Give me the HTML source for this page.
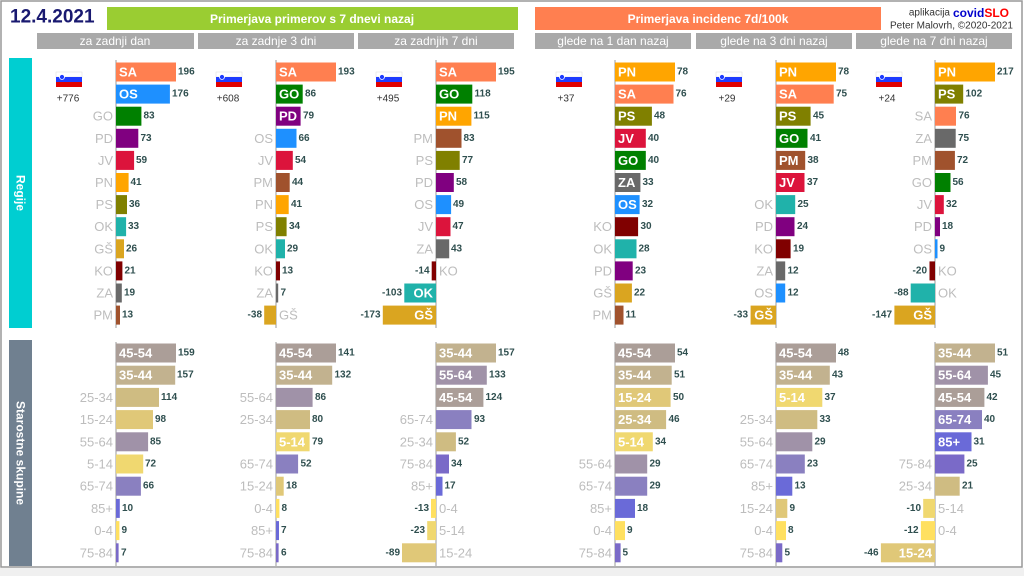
<!DOCTYPE html>
<html><head><meta charset="utf-8"><style>
body{margin:0;background:#fff;}
svg{display:block;font-family:"Liberation Sans",sans-serif;}
rect.b{y:-9.5px;height:19px;}
text{dominant-baseline:central;}
.v{font-size:10px;font-weight:bold;fill:#2f4f4f;}
.n{font-size:13px;fill:#bdbdbd;text-anchor:end;}
.m{font-size:13px;fill:#bdbdbd;}
.i{font-size:13px;font-weight:bold;fill:#fff;}
.e{text-anchor:end;}
.SA{fill:#ff7f50}.OS{fill:#1e90ff}.GO{fill:#008000}.PD{fill:#800080}.JV{fill:#dc143c}.PN{fill:#ffa500}.PS{fill:#808000}.OK{fill:#20b2aa}.GS{fill:#daa520}.KO{fill:#800000}.ZA{fill:#696969}.PM{fill:#a0522d}
.a45{fill:#ab9e98}.a35{fill:#c2b28f}.a25{fill:#cfbc82}.a15{fill:#e0c878}.a5{fill:#f0d870}.a0{fill:#ffe060}.a55{fill:#a092a8}.a65{fill:#8a80c0}.a75{fill:#7a6ac8}.a85{fill:#6a6ad8}
.h{font-size:12px;fill:#fff;text-anchor:middle;}
</style></head><body>
<svg width="1024" height="576" viewBox="0 0 1024 576">
<rect x="0" y="0" width="1024" height="576" fill="#fff"/>
<rect x="1" y="1" width="1021" height="566" fill="none" stroke="#999" stroke-width="1.5"/>
<rect x="0" y="568" width="1024" height="8" fill="#f0f0f0"/>
<text x="10" y="17" font-size="19" font-weight="bold" fill="#191970">12.4.2021</text>
<rect x="107" y="7" width="411" height="23" fill="#9acd32"/>
<text x="312" y="19" class="h" font-weight="bold" font-size="13">Primerjava primerov s 7 dnevi nazaj</text>
<rect x="535" y="7" width="346" height="23" fill="#ff7f50"/>
<text x="708" y="19" class="h" font-weight="bold" font-size="13">Primerjava incidenc 7d/100k</text>
<text x="950" y="13" font-size="10" fill="#333" text-anchor="end">aplikacija</text>
<text x="953" y="13" font-size="12" font-weight="bold" fill="#0000cd">covid<tspan fill="#ff0000">SLO</tspan></text>
<text x="1013" y="26" font-size="10" fill="#333" text-anchor="end">Peter Malovrh, ©2020-2021</text>
<g fill="#a9a9a9">
<rect x="37" y="33" width="157" height="16"/><rect x="198" y="33" width="156" height="16"/><rect x="358" y="33" width="156" height="16"/>
<rect x="535" y="33" width="156" height="16"/><rect x="696" y="33" width="156" height="16"/><rect x="856" y="33" width="156" height="16"/></g>
<text x="115" y="41" class="h">za zadnji dan</text><text x="276" y="41" class="h">za zadnje 3 dni</text><text x="436" y="41" class="h">za zadnjih 7 dni</text>
<text x="613" y="41" class="h">glede na 1 dan nazaj</text><text x="774" y="41" class="h">glede na 3 dni nazaj</text><text x="934" y="41" class="h">glede na 7 dni nazaj</text>
<rect x="9" y="58" width="23" height="270" fill="#00ced1"/>
<text transform="translate(20.5,193) rotate(90)" class="h" font-weight="bold" font-size="13">Regije</text>
<rect x="9" y="340" width="23" height="226" fill="#708090"/>
<text transform="translate(20.5,453) rotate(90)" class="h" font-weight="bold" font-size="13">Starostne skupine</text>
<g stroke="#999" stroke-width="1">
<line x1="116" y1="60" x2="116" y2="328"/><line x1="276" y1="60" x2="276" y2="328"/><line x1="436" y1="60" x2="436" y2="328"/><line x1="615" y1="60" x2="615" y2="328"/><line x1="776" y1="60" x2="776" y2="328"/><line x1="935" y1="60" x2="935" y2="328"/>
<line x1="116" y1="342" x2="116" y2="566"/><line x1="276" y1="342" x2="276" y2="566"/><line x1="436" y1="342" x2="436" y2="566"/><line x1="615" y1="342" x2="615" y2="566"/><line x1="776" y1="342" x2="776" y2="566"/><line x1="935" y1="342" x2="935" y2="566"/>
</g>
<!-- flags -->
<g transform="translate(56,72)"><rect width="26" height="5" fill="#fff" stroke="#ddd" stroke-width="0.5"/><rect y="5" width="26" height="5" fill="#1e3cff"/><rect y="10" width="26" height="5" fill="#e00000"/><circle cx="6" cy="5" r="2.5" fill="#1e3cff" stroke="#fff" stroke-width="0.8"/></g>
<text x="68" y="99" font-size="10" fill="#333" text-anchor="middle">+776</text>
<g transform="translate(216,72)"><rect width="26" height="5" fill="#fff" stroke="#ddd" stroke-width="0.5"/><rect y="5" width="26" height="5" fill="#1e3cff"/><rect y="10" width="26" height="5" fill="#e00000"/><circle cx="6" cy="5" r="2.5" fill="#1e3cff" stroke="#fff" stroke-width="0.8"/></g>
<text x="228" y="99" font-size="10" fill="#333" text-anchor="middle">+608</text>
<g transform="translate(376,72)"><rect width="26" height="5" fill="#fff" stroke="#ddd" stroke-width="0.5"/><rect y="5" width="26" height="5" fill="#1e3cff"/><rect y="10" width="26" height="5" fill="#e00000"/><circle cx="6" cy="5" r="2.5" fill="#1e3cff" stroke="#fff" stroke-width="0.8"/></g>
<text x="388" y="99" font-size="10" fill="#333" text-anchor="middle">+495</text>
<g transform="translate(556,72)"><rect width="26" height="5" fill="#fff" stroke="#ddd" stroke-width="0.5"/><rect y="5" width="26" height="5" fill="#1e3cff"/><rect y="10" width="26" height="5" fill="#e00000"/><circle cx="6" cy="5" r="2.5" fill="#1e3cff" stroke="#fff" stroke-width="0.8"/></g>
<text x="566" y="99" font-size="10" fill="#333" text-anchor="middle">+37</text>
<g transform="translate(716,72)"><rect width="26" height="5" fill="#fff" stroke="#ddd" stroke-width="0.5"/><rect y="5" width="26" height="5" fill="#1e3cff"/><rect y="10" width="26" height="5" fill="#e00000"/><circle cx="6" cy="5" r="2.5" fill="#1e3cff" stroke="#fff" stroke-width="0.8"/></g>
<text x="727" y="99" font-size="10" fill="#333" text-anchor="middle">+29</text>
<g transform="translate(876,72)"><rect width="26" height="5" fill="#fff" stroke="#ddd" stroke-width="0.5"/><rect y="5" width="26" height="5" fill="#1e3cff"/><rect y="10" width="26" height="5" fill="#e00000"/><circle cx="6" cy="5" r="2.5" fill="#1e3cff" stroke="#fff" stroke-width="0.8"/></g>
<text x="887" y="99" font-size="10" fill="#333" text-anchor="middle">+24</text>

<!-- P1 regions -->
<g transform="translate(116,72)"><rect class="b SA" width="60"/><text x="3" class="i">SA</text><text x="62" class="v">196</text></g>
<g transform="translate(116,94.1)"><rect class="b OS" width="53.9"/><text x="3" class="i">OS</text><text x="56" class="v">176</text></g>
<g transform="translate(116,116.2)"><rect class="b GO" width="25.4"/><text x="-3" class="n">GO</text><text x="27.5" class="v">83</text></g>
<g transform="translate(116,138.3)"><rect class="b PD" width="22.3"/><text x="-3" class="n">PD</text><text x="24.5" class="v">73</text></g>
<g transform="translate(116,160.4)"><rect class="b JV" width="18.1"/><text x="-3" class="n">JV</text><text x="20" class="v">59</text></g>
<g transform="translate(116,182.5)"><rect class="b PN" width="12.6"/><text x="-3" class="n">PN</text><text x="14.5" class="v">41</text></g>
<g transform="translate(116,204.6)"><rect class="b PS" width="11"/><text x="-3" class="n">PS</text><text x="13" class="v">36</text></g>
<g transform="translate(116,226.7)"><rect class="b OK" width="10.1"/><text x="-3" class="n">OK</text><text x="12" class="v">33</text></g>
<g transform="translate(116,248.8)"><rect class="b GS" width="8"/><text x="-3" class="n">GŠ</text><text x="10" class="v">26</text></g>
<g transform="translate(116,270.9)"><rect class="b KO" width="6.4"/><text x="-3" class="n">KO</text><text x="8.5" class="v">21</text></g>
<g transform="translate(116,293)"><rect class="b ZA" width="5.8"/><text x="-3" class="n">ZA</text><text x="8" class="v">19</text></g>
<g transform="translate(116,315.1)"><rect class="b PM" width="4"/><text x="-3" class="n">PM</text><text x="6" class="v">13</text></g>
<!-- P2 regions -->
<g transform="translate(276,72)"><rect class="b SA" width="60"/><text x="3" class="i">SA</text><text x="62" class="v">193</text></g>
<g transform="translate(276,94.1)"><rect class="b GO" width="26.7"/><text x="3" class="i">GO</text><text x="29" class="v">86</text></g>
<g transform="translate(276,116.2)"><rect class="b PD" width="24.6"/><text x="3" class="i">PD</text><text x="27" class="v">79</text></g>
<g transform="translate(276,138.3)"><rect class="b OS" width="20.5"/><text x="-3" class="n">OS</text><text x="22.5" class="v">66</text></g>
<g transform="translate(276,160.4)"><rect class="b JV" width="16.8"/><text x="-3" class="n">JV</text><text x="19" class="v">54</text></g>
<g transform="translate(276,182.5)"><rect class="b PM" width="13.7"/><text x="-3" class="n">PM</text><text x="16" class="v">44</text></g>
<g transform="translate(276,204.6)"><rect class="b PN" width="12.7"/><text x="-3" class="n">PN</text><text x="15" class="v">41</text></g>
<g transform="translate(276,226.7)"><rect class="b PS" width="10.6"/><text x="-3" class="n">PS</text><text x="13" class="v">34</text></g>
<g transform="translate(276,248.8)"><rect class="b OK" width="9"/><text x="-3" class="n">OK</text><text x="11" class="v">29</text></g>
<g transform="translate(276,270.9)"><rect class="b KO" width="4"/><text x="-3" class="n">KO</text><text x="6" class="v">13</text></g>
<g transform="translate(276,293)"><rect class="b ZA" width="2.2"/><text x="-3" class="n">ZA</text><text x="4.5" class="v">7</text></g>
<g transform="translate(276,315.1)"><rect class="b GS" x="-11.8" width="11.8"/><text x="3" class="m">GŠ</text><text x="-14" class="v e">-38</text></g>
<!-- P3 regions -->
<g transform="translate(436,72)"><rect class="b SA" width="60"/><text x="3" class="i">SA</text><text x="62" class="v">195</text></g>
<g transform="translate(436,94.1)"><rect class="b GO" width="36.3"/><text x="3" class="i">GO</text><text x="38.5" class="v">118</text></g>
<g transform="translate(436,116.2)"><rect class="b PN" width="35.4"/><text x="3" class="i">PN</text><text x="37.5" class="v">115</text></g>
<g transform="translate(436,138.3)"><rect class="b PM" width="25.5"/><text x="-3" class="n">PM</text><text x="27.5" class="v">83</text></g>
<g transform="translate(436,160.4)"><rect class="b PS" width="23.7"/><text x="-3" class="n">PS</text><text x="26" class="v">77</text></g>
<g transform="translate(436,182.5)"><rect class="b PD" width="17.8"/><text x="-3" class="n">PD</text><text x="20" class="v">58</text></g>
<g transform="translate(436,204.6)"><rect class="b OS" width="15.1"/><text x="-3" class="n">OS</text><text x="17" class="v">49</text></g>
<g transform="translate(436,226.7)"><rect class="b JV" width="14.5"/><text x="-3" class="n">JV</text><text x="16.5" class="v">47</text></g>
<g transform="translate(436,248.8)"><rect class="b ZA" width="13.2"/><text x="-3" class="n">ZA</text><text x="15" class="v">43</text></g>
<g transform="translate(436,270.9)"><rect class="b KO" x="-4.3" width="4.3"/><text x="3" class="m">KO</text><text x="-6.5" class="v e">-14</text></g>
<g transform="translate(436,293)"><rect class="b OK" x="-31.7" width="31.7"/><text x="-3" class="i e">OK</text><text x="-34" class="v e">-103</text></g>
<g transform="translate(436,315.1)"><rect class="b GS" x="-53.2" width="53.2"/><text x="-3" class="i e">GŠ</text><text x="-55.5" class="v e">-173</text></g>
<!-- P4 regions -->
<g transform="translate(615,72)"><rect class="b PN" width="60"/><text x="3" class="i">PN</text><text x="62" class="v">78</text></g>
<g transform="translate(615,94.1)"><rect class="b SA" width="58.5"/><text x="3" class="i">SA</text><text x="60.5" class="v">76</text></g>
<g transform="translate(615,116.2)"><rect class="b PS" width="36.9"/><text x="3" class="i">PS</text><text x="39" class="v">48</text></g>
<g transform="translate(615,138.3)"><rect class="b JV" width="30.8"/><text x="3" class="i">JV</text><text x="33" class="v">40</text></g>
<g transform="translate(615,160.4)"><rect class="b GO" width="30.8"/><text x="3" class="i">GO</text><text x="33" class="v">40</text></g>
<g transform="translate(615,182.5)"><rect class="b ZA" width="25.4"/><text x="3" class="i">ZA</text><text x="27.5" class="v">33</text></g>
<g transform="translate(615,204.6)"><rect class="b OS" width="24.6"/><text x="3" class="i">OS</text><text x="27" class="v">32</text></g>
<g transform="translate(615,226.7)"><rect class="b KO" width="23.1"/><text x="-3" class="n">KO</text><text x="25.5" class="v">30</text></g>
<g transform="translate(615,248.8)"><rect class="b OK" width="21.5"/><text x="-3" class="n">OK</text><text x="23.5" class="v">28</text></g>
<g transform="translate(615,270.9)"><rect class="b PD" width="17.7"/><text x="-3" class="n">PD</text><text x="20" class="v">23</text></g>
<g transform="translate(615,293)"><rect class="b GS" width="16.9"/><text x="-3" class="n">GŠ</text><text x="19" class="v">22</text></g>
<g transform="translate(615,315.1)"><rect class="b PM" width="8.5"/><text x="-3" class="n">PM</text><text x="10.5" class="v">11</text></g>
<!-- P5 regions -->
<g transform="translate(776,72)"><rect class="b PN" width="60"/><text x="3" class="i">PN</text><text x="62" class="v">78</text></g>
<g transform="translate(776,94.1)"><rect class="b SA" width="57.7"/><text x="3" class="i">SA</text><text x="60" class="v">75</text></g>
<g transform="translate(776,116.2)"><rect class="b PS" width="34.6"/><text x="3" class="i">PS</text><text x="37" class="v">45</text></g>
<g transform="translate(776,138.3)"><rect class="b GO" width="31.5"/><text x="3" class="i">GO</text><text x="34" class="v">41</text></g>
<g transform="translate(776,160.4)"><rect class="b PM" width="29.2"/><text x="3" class="i">PM</text><text x="31.5" class="v">38</text></g>
<g transform="translate(776,182.5)"><rect class="b JV" width="28.5"/><text x="3" class="i">JV</text><text x="31" class="v">37</text></g>
<g transform="translate(776,204.6)"><rect class="b OK" width="19.2"/><text x="-3" class="n">OK</text><text x="21.5" class="v">25</text></g>
<g transform="translate(776,226.7)"><rect class="b PD" width="18.5"/><text x="-3" class="n">PD</text><text x="21" class="v">24</text></g>
<g transform="translate(776,248.8)"><rect class="b KO" width="14.6"/><text x="-3" class="n">KO</text><text x="17" class="v">19</text></g>
<g transform="translate(776,270.9)"><rect class="b ZA" width="9.2"/><text x="-3" class="n">ZA</text><text x="11.5" class="v">12</text></g>
<g transform="translate(776,293)"><rect class="b OS" width="9.2"/><text x="-3" class="n">OS</text><text x="11.5" class="v">12</text></g>
<g transform="translate(776,315.1)"><rect class="b GS" x="-25.4" width="25.4"/><text x="-3" class="i e">GŠ</text><text x="-28" class="v e">-33</text></g>
<!-- P6 regions -->
<g transform="translate(935,72)"><rect class="b PN" width="60"/><text x="3" class="i">PN</text><text x="62" class="v">217</text></g>
<g transform="translate(935,94.1)"><rect class="b PS" width="28.2"/><text x="3" class="i">PS</text><text x="30.5" class="v">102</text></g>
<g transform="translate(935,116.2)"><rect class="b SA" width="21"/><text x="-3" class="n">SA</text><text x="23.5" class="v">76</text></g>
<g transform="translate(935,138.3)"><rect class="b ZA" width="20.7"/><text x="-3" class="n">ZA</text><text x="23" class="v">75</text></g>
<g transform="translate(935,160.4)"><rect class="b PM" width="19.9"/><text x="-3" class="n">PM</text><text x="22" class="v">72</text></g>
<g transform="translate(935,182.5)"><rect class="b GO" width="15.5"/><text x="-3" class="n">GO</text><text x="17.5" class="v">56</text></g>
<g transform="translate(935,204.6)"><rect class="b JV" width="8.8"/><text x="-3" class="n">JV</text><text x="11" class="v">32</text></g>
<g transform="translate(935,226.7)"><rect class="b PD" width="5"/><text x="-3" class="n">PD</text><text x="7" class="v">18</text></g>
<g transform="translate(935,248.8)"><rect class="b OS" width="2.5"/><text x="-3" class="n">OS</text><text x="4.5" class="v">9</text></g>
<g transform="translate(935,270.9)"><rect class="b KO" x="-5.5" width="5.5"/><text x="3" class="m">KO</text><text x="-8" class="v e">-20</text></g>
<g transform="translate(935,293)"><rect class="b OK" x="-24.3" width="24.3"/><text x="3" class="m">OK</text><text x="-26.5" class="v e">-88</text></g>
<g transform="translate(935,315.1)"><rect class="b GS" x="-40.6" width="40.6"/><text x="-3" class="i e">GŠ</text><text x="-43" class="v e">-147</text></g>

<!-- P1 ages -->
<g transform="translate(116,353)"><rect class="b a45" width="60"/><text x="3" class="i">45-54</text><text x="62" class="v">159</text></g>
<g transform="translate(116,375.2)"><rect class="b a35" width="59.2"/><text x="3" class="i">35-44</text><text x="61" class="v">157</text></g>
<g transform="translate(116,397.4)"><rect class="b a25" width="43"/><text x="-3" class="n">25-34</text><text x="45" class="v">114</text></g>
<g transform="translate(116,419.6)"><rect class="b a15" width="37"/><text x="-3" class="n">15-24</text><text x="39" class="v">98</text></g>
<g transform="translate(116,441.8)"><rect class="b a55" width="32.1"/><text x="-3" class="n">55-64</text><text x="34" class="v">85</text></g>
<g transform="translate(116,464)"><rect class="b a5" width="27.2"/><text x="-3" class="n">5-14</text><text x="29" class="v">72</text></g>
<g transform="translate(116,486.2)"><rect class="b a65" width="24.9"/><text x="-3" class="n">65-74</text><text x="27" class="v">66</text></g>
<g transform="translate(116,508.4)"><rect class="b a85" width="3.8"/><text x="-3" class="n">85+</text><text x="6" class="v">10</text></g>
<g transform="translate(116,530.6)"><rect class="b a0" width="3.4"/><text x="-3" class="n">0-4</text><text x="5.5" class="v">9</text></g>
<g transform="translate(116,552.8)"><rect class="b a75" width="2.6"/><text x="-3" class="n">75-84</text><text x="5" class="v">7</text></g>
<!-- P2 ages -->
<g transform="translate(276,353)"><rect class="b a45" width="60"/><text x="3" class="i">45-54</text><text x="62" class="v">141</text></g>
<g transform="translate(276,375.2)"><rect class="b a35" width="56.2"/><text x="3" class="i">35-44</text><text x="58.5" class="v">132</text></g>
<g transform="translate(276,397.4)"><rect class="b a55" width="36.6"/><text x="-3" class="n">55-64</text><text x="39" class="v">86</text></g>
<g transform="translate(276,419.6)"><rect class="b a25" width="34"/><text x="-3" class="n">25-34</text><text x="36" class="v">80</text></g>
<g transform="translate(276,441.8)"><rect class="b a5" width="33.6"/><text x="3" class="i">5-14</text><text x="36" class="v">79</text></g>
<g transform="translate(276,464)"><rect class="b a65" width="22.1"/><text x="-3" class="n">65-74</text><text x="24.5" class="v">52</text></g>
<g transform="translate(276,486.2)"><rect class="b a15" width="7.7"/><text x="-3" class="n">15-24</text><text x="10" class="v">18</text></g>
<g transform="translate(276,508.4)"><rect class="b a0" width="3.4"/><text x="-3" class="n">0-4</text><text x="5.5" class="v">8</text></g>
<g transform="translate(276,530.6)"><rect class="b a85" width="3"/><text x="-3" class="n">85+</text><text x="5" class="v">7</text></g>
<g transform="translate(276,552.8)"><rect class="b a75" width="2.6"/><text x="-3" class="n">75-84</text><text x="5" class="v">6</text></g>
<!-- P3 ages -->
<g transform="translate(436,353)"><rect class="b a35" width="60"/><text x="3" class="i">35-44</text><text x="62" class="v">157</text></g>
<g transform="translate(436,375.2)"><rect class="b a55" width="50.8"/><text x="3" class="i">55-64</text><text x="53" class="v">133</text></g>
<g transform="translate(436,397.4)"><rect class="b a45" width="47.4"/><text x="3" class="i">45-54</text><text x="49.5" class="v">124</text></g>
<g transform="translate(436,419.6)"><rect class="b a65" width="35.5"/><text x="-3" class="n">65-74</text><text x="38" class="v">93</text></g>
<g transform="translate(436,441.8)"><rect class="b a25" width="19.9"/><text x="-3" class="n">25-34</text><text x="22" class="v">52</text></g>
<g transform="translate(436,464)"><rect class="b a75" width="13"/><text x="-3" class="n">75-84</text><text x="15" class="v">34</text></g>
<g transform="translate(436,486.2)"><rect class="b a85" width="6.5"/><text x="-3" class="n">85+</text><text x="8.5" class="v">17</text></g>
<g transform="translate(436,508.4)"><rect class="b a0" x="-5" width="5"/><text x="3" class="m">0-4</text><text x="-7" class="v e">-13</text></g>
<g transform="translate(436,530.6)"><rect class="b a5" x="-8.8" width="8.8"/><text x="3" class="m">5-14</text><text x="-11" class="v e">-23</text></g>
<g transform="translate(436,552.8)"><rect class="b a15" x="-34" width="34"/><text x="3" class="m">15-24</text><text x="-36" class="v e">-89</text></g>
<!-- P4 ages -->
<g transform="translate(615,353)"><rect class="b a45" width="60"/><text x="3" class="i">45-54</text><text x="62" class="v">54</text></g>
<g transform="translate(615,375.2)"><rect class="b a35" width="56.7"/><text x="3" class="i">35-44</text><text x="59" class="v">51</text></g>
<g transform="translate(615,397.4)"><rect class="b a15" width="55.6"/><text x="3" class="i">15-24</text><text x="58" class="v">50</text></g>
<g transform="translate(615,419.6)"><rect class="b a25" width="51.1"/><text x="3" class="i">25-34</text><text x="53.5" class="v">46</text></g>
<g transform="translate(615,441.8)"><rect class="b a5" width="37.8"/><text x="3" class="i">5-14</text><text x="40" class="v">34</text></g>
<g transform="translate(615,464)"><rect class="b a55" width="32.2"/><text x="-3" class="n">55-64</text><text x="34.5" class="v">29</text></g>
<g transform="translate(615,486.2)"><rect class="b a65" width="32.2"/><text x="-3" class="n">65-74</text><text x="34.5" class="v">29</text></g>
<g transform="translate(615,508.4)"><rect class="b a85" width="20"/><text x="-3" class="n">85+</text><text x="22" class="v">18</text></g>
<g transform="translate(615,530.6)"><rect class="b a0" width="10"/><text x="-3" class="n">0-4</text><text x="12" class="v">9</text></g>
<g transform="translate(615,552.8)"><rect class="b a75" width="5.6"/><text x="-3" class="n">75-84</text><text x="7.5" class="v">5</text></g>
<!-- P5 ages -->
<g transform="translate(776,353)"><rect class="b a45" width="60"/><text x="3" class="i">45-54</text><text x="62" class="v">48</text></g>
<g transform="translate(776,375.2)"><rect class="b a35" width="53.8"/><text x="3" class="i">35-44</text><text x="56" class="v">43</text></g>
<g transform="translate(776,397.4)"><rect class="b a5" width="46.3"/><text x="3" class="i">5-14</text><text x="48.5" class="v">37</text></g>
<g transform="translate(776,419.6)"><rect class="b a25" width="41.3"/><text x="-3" class="n">25-34</text><text x="43.5" class="v">33</text></g>
<g transform="translate(776,441.8)"><rect class="b a55" width="36.3"/><text x="-3" class="n">55-64</text><text x="38.5" class="v">29</text></g>
<g transform="translate(776,464)"><rect class="b a65" width="28.8"/><text x="-3" class="n">65-74</text><text x="31" class="v">23</text></g>
<g transform="translate(776,486.2)"><rect class="b a85" width="16.3"/><text x="-3" class="n">85+</text><text x="18.5" class="v">13</text></g>
<g transform="translate(776,508.4)"><rect class="b a15" width="11.3"/><text x="-3" class="n">15-24</text><text x="13.5" class="v">9</text></g>
<g transform="translate(776,530.6)"><rect class="b a0" width="10"/><text x="-3" class="n">0-4</text><text x="12" class="v">8</text></g>
<g transform="translate(776,552.8)"><rect class="b a75" width="6.3"/><text x="-3" class="n">75-84</text><text x="8.5" class="v">5</text></g>
<!-- P6 ages -->
<g transform="translate(935,353)"><rect class="b a35" width="60"/><text x="3" class="i">35-44</text><text x="62" class="v">51</text></g>
<g transform="translate(935,375.2)"><rect class="b a55" width="52.9"/><text x="3" class="i">55-64</text><text x="55" class="v">45</text></g>
<g transform="translate(935,397.4)"><rect class="b a45" width="49.4"/><text x="3" class="i">45-54</text><text x="51.5" class="v">42</text></g>
<g transform="translate(935,419.6)"><rect class="b a65" width="47"/><text x="3" class="i">65-74</text><text x="49" class="v">40</text></g>
<g transform="translate(935,441.8)"><rect class="b a85" width="36.5"/><text x="3" class="i">85+</text><text x="38.5" class="v">31</text></g>
<g transform="translate(935,464)"><rect class="b a75" width="29.4"/><text x="-3" class="n">75-84</text><text x="31.5" class="v">25</text></g>
<g transform="translate(935,486.2)"><rect class="b a25" width="24.7"/><text x="-3" class="n">25-34</text><text x="27" class="v">21</text></g>
<g transform="translate(935,508.4)"><rect class="b a5" x="-11.8" width="11.8"/><text x="3" class="m">5-14</text><text x="-14" class="v e">-10</text></g>
<g transform="translate(935,530.6)"><rect class="b a0" x="-14.1" width="14.1"/><text x="3" class="m">0-4</text><text x="-16.5" class="v e">-12</text></g>
<g transform="translate(935,552.8)"><rect class="b a15" x="-54.1" width="54.1"/><text x="-3" class="i e">15-24</text><text x="-56.5" class="v e">-46</text></g>
</svg>
</body></html>
